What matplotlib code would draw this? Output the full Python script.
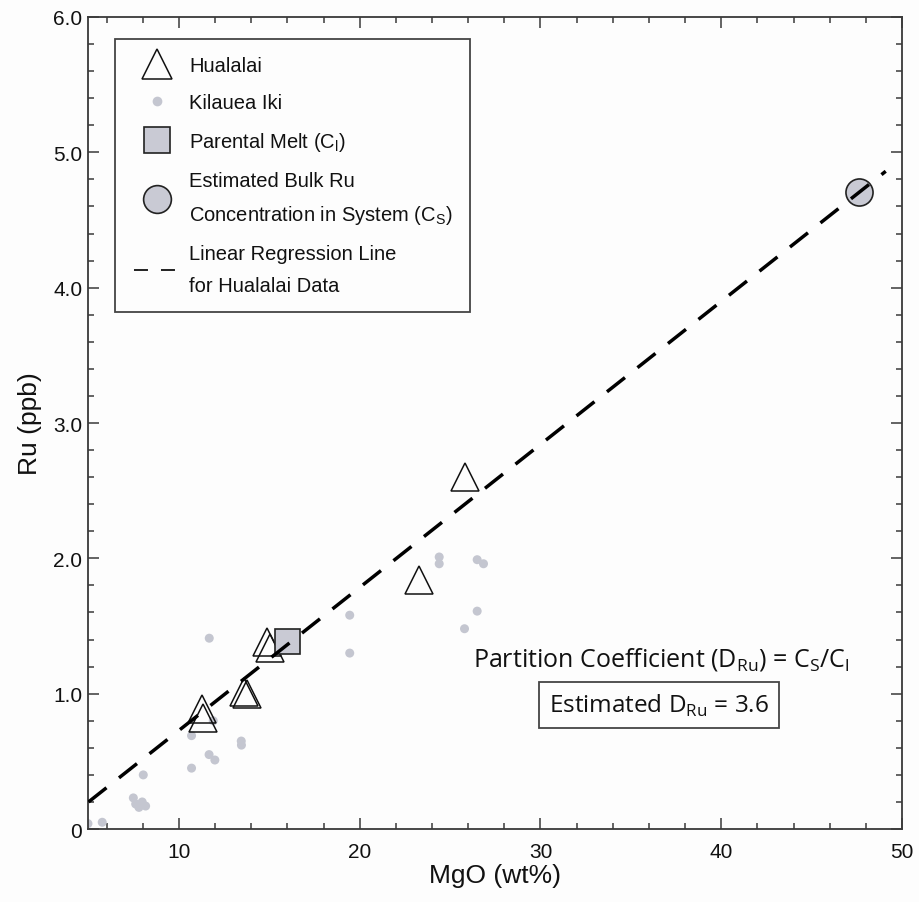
import matplotlib
matplotlib.use("Agg")
import matplotlib.pyplot as plt
from matplotlib.lines import Line2D
from matplotlib.ticker import MultipleLocator, FixedLocator

# ---------------- data ----------------
hual_mgo = [11.26, 11.35, 13.6, 13.75, 14.85, 15.05, 23.3, 25.8]
hual_ru = [0.89, 0.82, 1.01, 1.00, 1.38, 1.34, 1.84, 2.60]

ki_mgo = [4.97, 5.76, 8.03, 7.48, 7.61, 7.79, 8.16, 7.97, 10.7, 10.7, 11.68, 11.9,
          11.67, 11.99, 13.45, 13.46, 19.45, 19.45, 24.4, 24.4, 26.5, 26.85, 26.5, 25.8]
ki_ru = [0.04, 0.05, 0.40, 0.23, 0.185, 0.16, 0.17, 0.20, 0.69, 0.45, 1.41, 0.80,
         0.55, 0.51, 0.65, 0.62, 1.58, 1.30, 2.01, 1.96, 1.99, 1.96, 1.61, 1.48]

melt_mgo = [16.0]
melt_ru = [1.39]

bulk_mgo = [47.6]
bulk_ru = [4.71]

reg_x = [5.0, 49.1]
reg_y = [0.20, 4.86]

x_ticks = [10, 20, 30, 40, 50]
y_ticks = [0, 1, 2, 3, 4, 5, 6]
y_tick_labels = ["0", "1.0", "2.0", "3.0", "4.0", "5.0", "6.0"]

# ---------------- style ----------------
dot_col = "#c4c6d0"
fill_col = "#c9cad4"
edge_col = "#222222"
spine_col = "#3a3a3a"
label_font = "Liberation Sans"
annot_font = "Open Sans"
leg_font, leg_size = "Liberation Sans", 14.5

fig = plt.figure(figsize=(9.19, 9.03), dpi=100)
fig.patch.set_facecolor("#fdfdfd")
ax = fig.add_axes([0.0963, 0.0808, 0.8852, 0.8993])
ax.set_facecolor("#fdfdfd")

ax.scatter(ki_mgo, ki_ru, s=42, color=dot_col, edgecolors="none", zorder=2)
ax.plot(hual_mgo, hual_ru, linestyle="none", marker="^", markersize=20,
        markerfacecolor="none", markeredgecolor="#111111", markeredgewidth=1.1, zorder=3)
ax.plot(melt_mgo, melt_ru, linestyle="none", marker="s", markersize=18,
        markerfacecolor=fill_col, markeredgecolor=edge_col, markeredgewidth=1.2, zorder=3)
ax.plot(bulk_mgo, bulk_ru, linestyle="none", marker="o", markersize=19.5,
        markerfacecolor=fill_col, markeredgecolor=edge_col, markeredgewidth=1.2, zorder=3)
ax.plot(reg_x, reg_y, color="black", linewidth=2.5, dashes=(6.6, 4.6),
        solid_capstyle="butt", dash_capstyle="butt", zorder=4)

ax.set_xlim(5, 50)
ax.set_ylim(0, 6)
ax.xaxis.set_major_locator(FixedLocator(x_ticks))
ax.xaxis.set_minor_locator(MultipleLocator(2))
ax.yaxis.set_major_locator(FixedLocator(y_ticks))
ax.set_yticklabels(y_tick_labels)
ax.yaxis.set_minor_locator(MultipleLocator(0.2))
ax.tick_params(which="both", direction="in", top=True, right=True, color=spine_col,
               width=1.1, labelsize=15, labelcolor="#111111")
ax.tick_params(which="major", length=8)
ax.tick_params(which="minor", length=4.5)
ax.tick_params(axis="x", which="major", pad=9)
ax.tick_params(axis="y", which="major", pad=4.5)
for lab in ax.get_xticklabels() + ax.get_yticklabels():
    lab.set_fontfamily(label_font)
for sp in ax.spines.values():
    sp.set_color(spine_col)
    sp.set_linewidth(1.3)

ax.set_xlabel("MgO (wt%)", fontsize=19, family=label_font, color="#111111", labelpad=2)
ax.set_ylabel("Ru (ppb)", fontsize=19, family=label_font, color="#111111", labelpad=8)

# ---------------- legend ----------------
lw_leg = 1.3
handles = [
    Line2D([], [], linestyle="none", marker="^", markersize=21, markerfacecolor="none",
           markeredgecolor="#111111", markeredgewidth=1.1),
    Line2D([], [], linestyle="none", marker="o", markersize=7, markerfacecolor=dot_col,
           markeredgecolor="none"),
    Line2D([], [], linestyle="none", marker="s", markersize=18.5, markerfacecolor=fill_col,
           markeredgecolor=edge_col, markeredgewidth=1.2),
    Line2D([], [], linestyle="none", marker="o", markersize=20, markerfacecolor=fill_col,
           markeredgecolor=edge_col, markeredgewidth=1.2),
    Line2D([], [], color="#111111", linewidth=lw_leg,
           linestyle=(77.0, (7.75, 7.2, 7.75, 55.4))),
]
labels = [
    "Hualalai",
    "Kilauea Iki",
    r"Parental Melt (C$_\mathdefault{l}$)",
    "Estimated Bulk Ru\n" + r"Concentration in System (C$_\mathdefault{S}$)",
    "Linear Regression Line\nfor Hualalai Data",
]
leg = ax.legend(handles, labels, loc="upper left", bbox_to_anchor=(0.0326, 0.9729),
                prop={"family": leg_font, "size": leg_size}, frameon=True, fancybox=False,
                edgecolor="#444444", framealpha=1, facecolor="#fdfdfd",
                borderpad=0.85, labelspacing=0.9, handlelength=2.42, handletextpad=0.42,
                borderaxespad=0.0)
leg.get_frame().set_linewidth(1.3)
leg_texts = leg.get_texts()
for t in leg_texts:
    t.set_color("#111111")
leg_texts[3].set_linespacing(1.71)
leg_texts[4].set_linespacing(1.9)

# ---------------- annotations ----------------
ax.text(0.7038, 0.2094,
        r"Partition Coefficient (D$_\mathdefault{Ru}$) = C$_\mathdefault{S}$/C$_\mathdefault{l}$",
        transform=ax.transAxes, ha="center", va="center", fontsize=18, family=annot_font,
        color="#111111")
ax.text(0.7013, 0.1527, r"Estimated D$_\mathdefault{Ru}$ = 3.6", transform=ax.transAxes,
        ha="center", va="center", fontsize=17.5, family=annot_font, color="#111111",
        bbox=dict(boxstyle="square,pad=0.42", facecolor="#fdfdfd", edgecolor="#444444",
                  linewidth=1.3))

fig.savefig("out.png", dpi=100, facecolor=fig.get_facecolor())
